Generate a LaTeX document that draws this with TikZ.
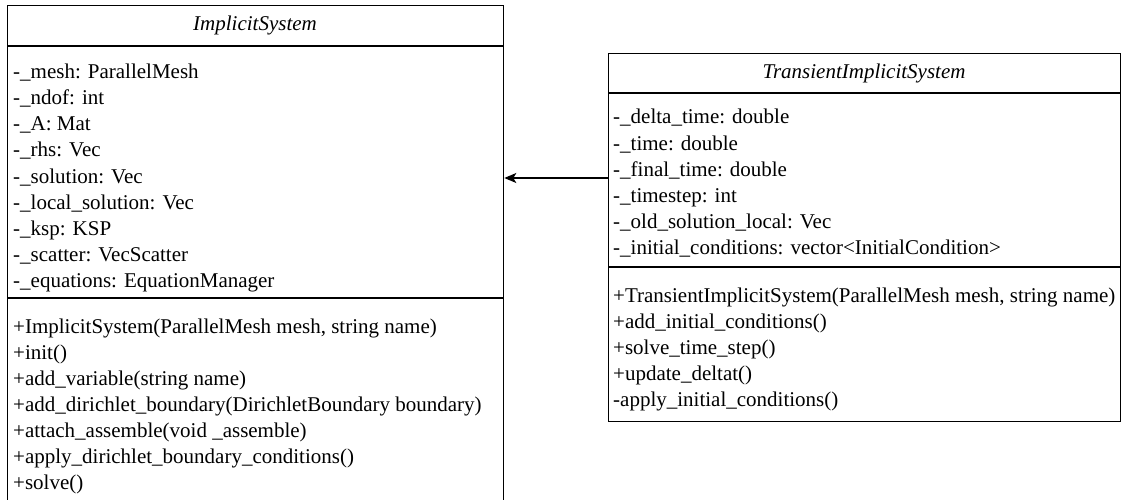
\documentclass[tikz,border=0pt]{standalone}
\usepackage{fontspec}
\setmainfont{Liberation Serif}
\usetikzlibrary{arrows.meta}
\begin{document}
\begin{tikzpicture}[x=1pt,y=-1pt,
  box/.style={draw=black, line width=1.3pt, inner sep=0pt, anchor=north west},
  member/.style={anchor=base west, inner sep=0pt, font=\fontsize{21}{26}\selectfont},
  classtitle/.style={inner sep=0pt, font=\fontsize{21}{26}\selectfont\itshape},
  sepline/.style={draw=black, line width=1.3pt},
  arr/.style={draw=black, line width=1.3pt, -{Stealth[length=12pt,width=10pt,inset=3pt]}}]
\useasboundingbox (0,0) rectangle (1121,500);
\clip (0,0) rectangle (1121,500);
% ImplicitSystem
\node[box, minimum width=496pt, minimum height=505pt] (is) at (7,5) {};
\node[classtitle] (ist) at (255,25) {ImplicitSystem};
\draw[sepline] (7,46) -- (503,46);
\draw[sepline] (7,298) -- (503,298);
\foreach \t [count=\i from 0] in {%
  {-\_mesh: ParallelMesh},
  {-\_ndof: int},
  {-\_A: Mat},
  {-\_rhs: Vec},
  {-\_solution: Vec},
  {-\_local\_solution: Vec},
  {-\_ksp: KSP},
  {-\_scatter: VecScatter},
  {-\_equations: EquationManager}}
  \node[member] (isa\i) at (13,79+26*\i) {\t};
\foreach \t [count=\i from 0] in {%
  {+ImplicitSystem(ParallelMesh mesh, string name)},
  {+init()},
  {+add\_variable(string name)},
  {+add\_dirichlet\_boundary(DirichletBoundary boundary)},
  {+attach\_assemble(void \_assemble)},
  {+apply\_dirichlet\_boundary\_conditions()},
  {+solve()}}
  \node[member] (ism\i) at (13,333+26*\i) {\t};
% TransientImplicitSystem
\node[box, minimum width=512pt, minimum height=368pt] (tis) at (608,53) {};
\node[classtitle] (tist) at (864,73) {TransientImplicitSystem};
\draw[sepline] (608,93) -- (1120,93);
\draw[sepline] (608,267) -- (1120,267);
\foreach \t [count=\i from 0] in {%
  {-\_delta\_time: double},
  {-\_time: double},
  {-\_final\_time: double},
  {-\_timestep: int},
  {-\_old\_solution\_local: Vec},
  {-\_initial\_conditions: vector<InitialCondition>}}
  \node[member] (tisa\i) at (613,124+26*\i) {\t};
\foreach \t [count=\i from 0] in {%
  {+TransientImplicitSystem(ParallelMesh mesh, string name)},
  {+add\_initial\_conditions()},
  {+solve\_time\_step()},
  {+update\_deltat()},
  {-apply\_initial\_conditions()}}
  \node[member] (tism\i) at (613,302+26*\i) {\t};
% inheritance arrow
\coordinate (ay) at (0,178);
\draw[arr] (tis.west |- ay) -- (is.east |- ay);
\end{tikzpicture}
\end{document}
